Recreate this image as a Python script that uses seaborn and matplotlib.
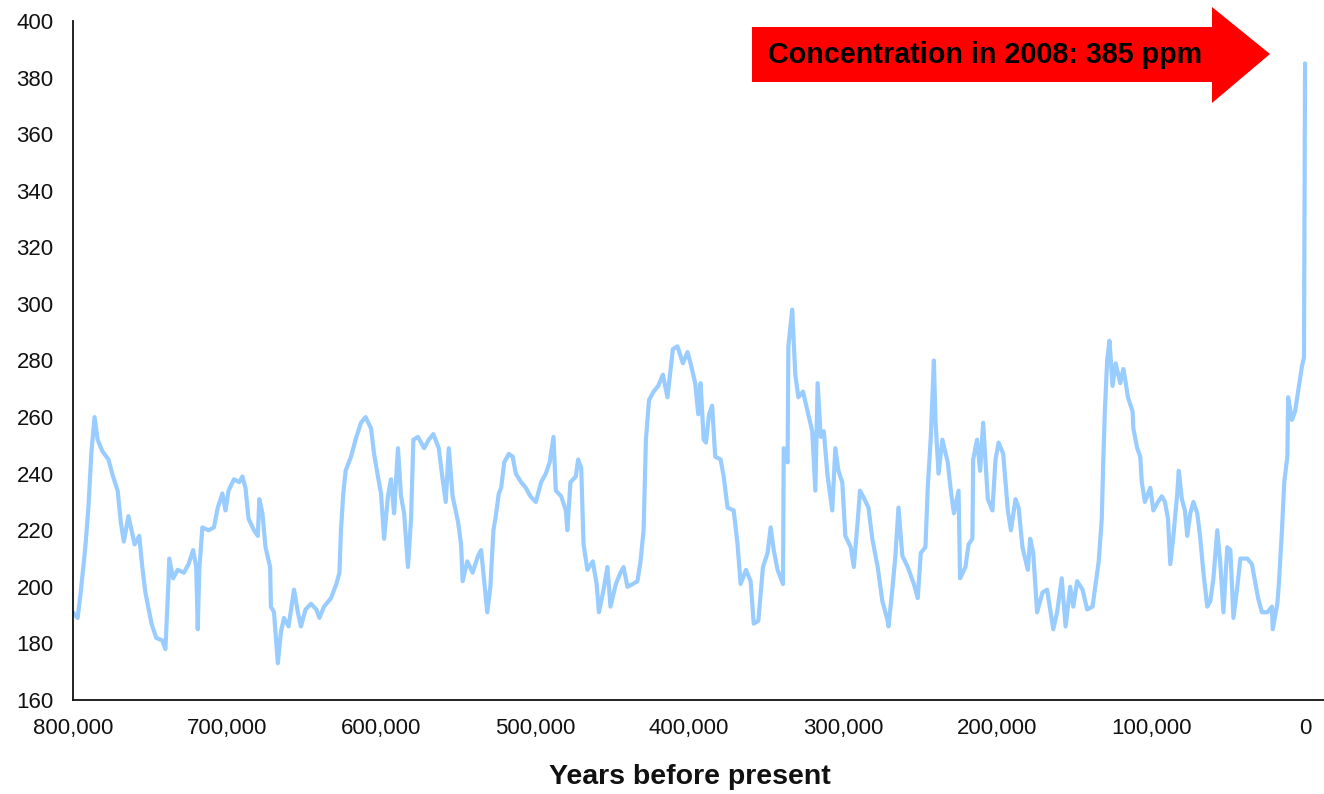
import matplotlib
matplotlib.use('Agg')
import matplotlib.pyplot as plt
import matplotlib.ticker as mticker
from matplotlib.patches import Polygon
import numpy as np
import pandas as pd
import seaborn as sns

# ice core CO2 record (thousands of years before present, ppm)
kyr_bp = [800, 797, 795, 792, 790, 788, 786, 784, 781, 777, 774, 771, 769, 767, 764, 760,
          757, 755, 753, 749, 746, 742, 740, 738, 737.5, 735, 732, 728, 725, 722, 720, 719,
          718, 716, 712, 708.5, 706, 703, 701, 699, 695.5, 692, 690, 688, 686, 682.5, 680,
          679, 677, 675, 672, 671.5, 669.5, 667, 665, 663, 660,
          656.5, 654, 652, 649, 645.5, 642, 640, 637, 632.5, 629, 627, 626, 624.5, 623, 619.5,
          616, 613, 610, 606.5, 604.5, 602, 600, 598, 595.5, 593.5, 591.5, 589, 587, 585,
          582.5, 580.5, 579, 576, 572, 569, 566, 562.5, 560, 558, 556, 553.5, 550, 548, 547,
          544, 540.5, 537, 535, 533, 531, 529, 527, 525.5, 523.5, 522, 520, 517, 514.5,
          512.5, 509, 506, 503, 499.5, 496, 493, 490.5, 488, 486.5, 483, 480, 479, 477,
          473.5, 472, 470, 468.5, 466, 462.5, 460, 458.5, 455.5, 453, 451, 447.5, 444.5,
          442.5, 440, 436.5, 433.5, 431.5, 429.5, 428, 426, 423, 420, 417, 414, 410.5, 407.5,
          404, 401, 399, 396, 394, 392.5, 390.5, 389, 387, 385, 383, 379.5, 377.5, 375, 371,
          368.5, 366.5, 363, 360, 358, 355, 352, 349, 347, 345, 342.5, 339, 338.5, 336,
          335.5, 333, 331, 329, 326, 323, 320, 318, 316.5, 314.5, 312.5, 310, 307, 305, 303,
          300.5, 298.5, 295, 293, 290.5, 289, 287, 283.5, 281, 277.5, 274.5, 271, 270.5, 268,
          266, 264, 261.5, 258, 254, 251.5, 249.5, 246.5, 245, 243, 241, 240, 238, 235.5,
          232, 230, 228, 225, 224, 220.5, 218.5, 216, 215.5, 213, 211, 209, 206, 203, 201,
          199, 196, 193, 191, 188, 186, 183.5, 180, 178.5, 176.5, 174, 170.5, 167.5, 165.5,
          163.5, 161, 158, 155.5, 152.5, 150.5, 148, 144.5, 141.5, 138, 136, 134, 132, 131,
          130, 128.5, 127, 125, 123, 120, 118, 117, 115, 112, 111.5, 109, 107, 106, 104,
          100.5, 98.5, 95.5, 93, 91, 89, 87.5, 85.5, 83, 82, 80, 78, 76.5, 74.5, 72.5, 70,
          68, 66, 63.5, 61.5, 59.5, 57, 55, 53, 50.5, 48.5, 46.5, 44, 42, 37.5, 34.5, 32.5,
          30.5, 28, 24.5, 21.5, 21, 18, 17, 15, 13.5, 11.5, 11, 8.5, 6.5, 4.5, 2, 0.7, 0]
co2_ppm = [191, 189, 198, 214, 228, 248, 260, 252, 248, 245, 239, 234, 223, 216, 225, 215,
           218, 207, 198, 187, 182, 181, 178, 202, 210, 203, 206, 205, 208, 213, 207, 185,
           206, 221, 220, 221, 228, 233, 227, 234, 238, 237, 239, 235, 224, 220, 218,
           231, 226, 214, 207, 193, 191, 173, 184, 189, 186,
           199, 191, 186, 192, 194, 192, 189, 193, 196, 201, 205, 220, 233, 241, 246,
           253, 258, 260, 256, 247, 239, 233, 217, 232, 238, 226, 249, 232, 226,
           207, 224, 252, 253, 249, 252, 254, 249, 238, 230, 249, 232, 223, 215, 202,
           209, 205, 211, 213, 202, 191, 200, 220, 225, 233, 235, 244, 247, 246,
           240, 237, 235, 232, 230, 237, 240, 244, 253, 234, 232, 227, 220, 237,
           239, 245, 242, 215, 206, 209, 201, 191, 199, 207, 193, 201, 205,
           207, 200, 201, 202, 209, 220, 252, 266, 269, 271, 275, 267, 284, 285,
           279, 283, 279, 272, 261, 272, 252, 251, 261, 264, 246, 245, 239, 228, 227,
           215, 201, 206, 202, 187, 188, 207, 212, 221, 213, 206, 201, 249, 244,
           285, 298, 275, 267, 269, 262, 255, 234, 272, 253, 255, 239, 227, 249, 241,
           237, 218, 214, 207, 223, 234, 232, 228, 217, 207, 195, 188, 186, 199,
           211, 228, 211, 207, 201, 196, 212, 214, 235, 253, 280, 259, 240, 252,
           244, 234, 226, 234, 203, 207, 215, 217, 245, 252, 241, 258, 231, 227, 245,
           251, 247, 227, 220, 231, 228, 214, 206, 217, 212, 191, 198, 199, 192,
           185, 191, 203, 186, 200, 193, 202, 199, 192, 193, 201, 209, 224, 245,
           262, 280, 287, 271, 279, 272, 277, 274, 267, 262, 256, 249, 246, 237, 230,
           235, 227, 230, 232, 230, 224, 208, 218, 233, 241, 231, 227, 218, 226, 230, 226,
           217, 205, 193, 195, 203, 220, 208, 191, 214, 213, 189, 200, 210, 210, 208, 202,
           196, 191, 191, 193, 185, 194, 201, 220, 237, 246, 267, 259, 262, 269, 278, 281, 385]

year_ticks = [800000, 700000, 600000, 500000, 400000, 300000, 200000, 100000, 0]
ppm_ticks = list(range(160, 401, 20))
callout = 'Concentration in 2008: 385 ppm'

df = pd.DataFrame({'years': np.array(kyr_bp) * 1000, 'ppm': co2_ppm})

sns.set_style('white')
plt.rcParams['font.family'] = ['Liberation Sans', 'DejaVu Sans']

fig = plt.figure(figsize=(13.24, 7.94), dpi=100)
ax = fig.add_axes([73 / 1324, 1 - 700 / 794, 1 - 73 / 1324, 679 / 794])

sns.lineplot(data=df, x='years', y='ppm', ax=ax, color='#99CCFF', linewidth=3,
             sort=False, estimator=None)

ax.set_xlim(800000, -12300)
ax.set_ylim(160, 400)
ax.set_xticks(year_ticks)
ax.set_yticks(ppm_ticks)
ax.xaxis.set_major_formatter(mticker.FuncFormatter(lambda v, p: '{:,.0f}'.format(v)))
ax.tick_params(axis='both', length=0, labelsize=16, labelcolor='#111111')
ax.tick_params(axis='x', pad=13)
ax.tick_params(axis='y', pad=14)
ax.set_ylabel('')
ax.set_xlabel('Years before present', fontsize=20.5, fontweight='bold', color='#111111')
ax.xaxis.set_label_coords((690 - 73) / 1251, -77 / 679)
ax.xaxis.label.set_va('center')

for s in ['top', 'right']:
    ax.spines[s].set_visible(False)
for s in ['left', 'bottom']:
    ax.spines[s].set_color('#111111')
    ax.spines[s].set_linewidth(1.3)

# red callout arrow (figure pixel coords -> fractions)
W, H = 1324.0, 794.0
pts = [(752, 27), (1212, 27), (1212, 7), (1270, 54), (1212, 103), (1212, 82), (752, 82)]
arrow = Polygon([(x / W, 1 - y / H) for x, y in pts], closed=True, transform=fig.transFigure,
                facecolor='#FF0000', edgecolor='none', zorder=5)
fig.patches.append(arrow)
fig.text(768 / W, 1 - 55 / H, callout, fontsize=20.7, fontweight='bold', color='black',
         ha='left', va='center', zorder=6)

fig.savefig('out.png', dpi=100)
